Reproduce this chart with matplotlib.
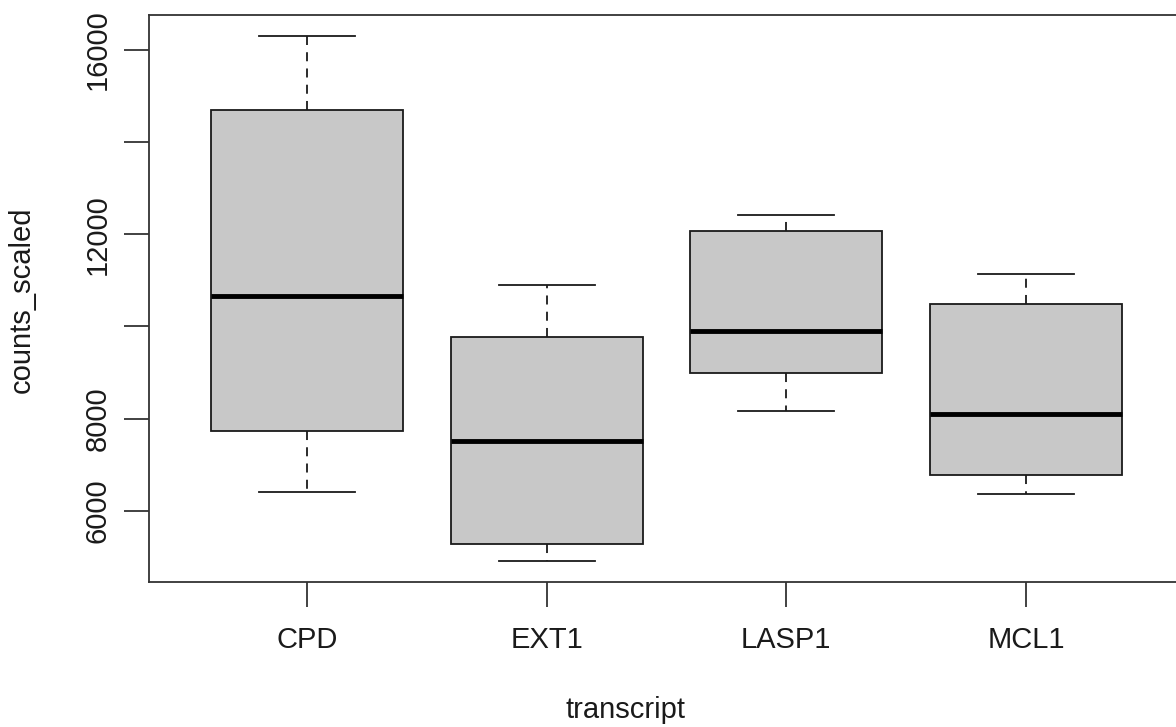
import numpy as np
import matplotlib.pyplot as plt

plt.rcParams['font.family'] = ['Liberation Sans', 'DejaVu Sans']

transcripts = ['CPD', 'EXT1', 'LASP1', 'MCL1']
whisker_low = [6410, 4910, 8170, 6370]
q1 = [7720, 5280, 8980, 6780]
median = [10650, 7520, 9910, 8090]
q3 = [14700, 9760, 12070, 10480]
whisker_high = [16300, 10890, 12410, 11130]

stats = []
for i, name in enumerate(transcripts):
    stats.append({'label': name, 'whislo': whisker_low[i], 'q1': q1[i],
                  'med': median[i], 'q3': q3[i], 'whishi': whisker_high[i]})

fig = plt.figure(figsize=(11.76, 7.27), dpi=100)
W, H = 1176, 727
ax = fig.add_axes([149 / W, (H - 582) / H, (1184 - 149) / W, (582 - 15) / H])

ax.bxp(stats, positions=np.arange(1, 5), widths=0.8, patch_artist=True,
       showfliers=False,
       boxprops=dict(facecolor='#c8c8c8', edgecolor='#1a1a1a', linewidth=1.3),
       medianprops=dict(color='black', linewidth=3.5),
       whiskerprops=dict(color='#1a1a1a', linewidth=1.3, linestyle=(0, (5, 4))),
       capprops=dict(color='#1a1a1a', linewidth=1.3),
       capwidths=0.4)

# R style 4% padding on both axes
lo = min(whisker_low)
hi = max(whisker_high)
pad = (hi - lo) * 0.04
ax.set_ylim(lo - pad, hi + pad)
ax.set_xlim(0.34, 4.66)

yt = np.arange(6000, 16001, 2000)
ax.set_yticks(yt)
ax.set_yticklabels(['6000', '8000', '', '12000', '', '16000'], rotation=90, va='center')
ax.set_xticks(np.arange(1, 5))
ax.set_xticklabels(transcripts)

ax.tick_params(axis='both', length=18, width=1.3, labelsize=21, color='#333333', labelcolor='#1a1a1a')
ax.tick_params(axis='y', pad=9)
ax.tick_params(axis='x', pad=14)

for s in ax.spines.values():
    s.set_linewidth(1.3)
    s.set_color('#333333')

fig.text(626 / W, 1 - 710 / H, 'transcript', ha='center', va='center', fontsize=21, color='#1a1a1a')
fig.text(22 / W, 1 - 300 / H, 'counts_scaled', ha='center', va='center', rotation=90, fontsize=21, color='#1a1a1a')

fig.savefig('out.png', dpi=100)
